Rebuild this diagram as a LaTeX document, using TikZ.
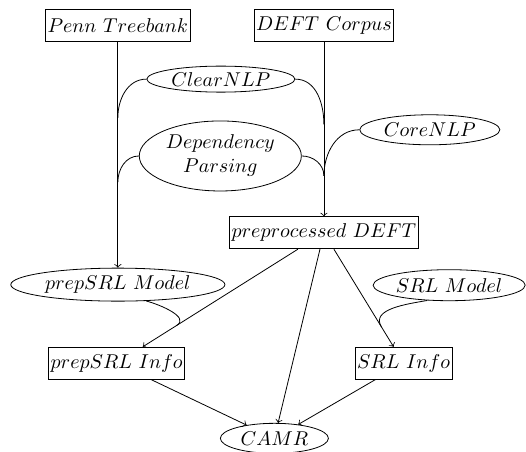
\documentclass[tikz,border=0pt]{standalone}
\usetikzlibrary{shapes.geometric,calc}
\begin{document}
\begin{tikzpicture}[scale=1,
infobox/.style={draw,rectangle,inner xsep=1pt,inner ysep=0pt,minimum height=16pt},
tool/.style={draw,ellipse,inner sep=0pt}]
\useasboundingbox (0,0) rectangle (9.24,7.94);
\draw (2.07,7.49) node[infobox] (penn) {$Penn\ Treebank$};
\draw (5.69,7.49) node[infobox] (deft) {$DEFT\ Corpus$};
\draw (3.88,6.55) node[tool,minimum width=74pt,minimum height=13pt] (clear) {$ClearNLP$};
\draw (3.87,5.20) node[tool,minimum width=81pt,minimum height=35pt,align=center] (dep) {$Dependency$\\$Parsing$};
\draw (7.55,5.66) node[tool,minimum width=70pt,minimum height=15pt] (core) {$CoreNLP$};
\draw (5.69,3.85) node[infobox] (pre) {$preprocessed\ DEFT$};
\draw (2.07,2.94) node[tool,minimum width=107pt,minimum height=16.5pt] (prepmodel) {$prepSRL\ Model$};
\draw (7.89,2.93) node[tool,minimum width=76pt,minimum height=15.5pt] (srlmodel) {$SRL\ Model$};
\draw (2.05,1.56) node[infobox] (prepinfo) {$prepSRL\ Info$};
\draw (7.09,1.56) node[infobox] (srlinfo) {$SRL\ Info$};
\draw (4.82,0.24) node[tool,minimum width=54pt,minimum height=15pt] (camr) {$CAMR$};
\coordinate (j1) at (2.07,5.87);
\coordinate (j2) at (2.07,4.74);
\coordinate (j3) at (5.69,5.75);
\coordinate (j4) at (5.69,4.85);
\draw[->] (penn) -- (prepmodel);
\draw[->] (deft) -- (pre);
\draw (clear.west) to[out=180,in=90] (j1);
\draw (dep.west) to[out=180,in=90] (j2);
\draw (clear.east) to[out=0,in=90] (j3);
\draw (dep.east) to[out=0,in=90] (j4);
\draw (core.west) to[out=180,in=90] (j4);
\draw[->] (pre) -- (prepinfo);
\draw[->] (pre) -- (camr);
\draw[->] (pre) -- (srlinfo);
\draw (prepmodel.-30) to[out=-15,in=32] ($(pre)!0.71!(prepinfo)$);
\draw (srlmodel.-145) to[out=190,in=121] ($(pre)!0.72!(srlinfo)$);
\draw[->] (prepinfo) -- (camr);
\draw[->] (srlinfo) -- (camr);
\end{tikzpicture}
\end{document}
